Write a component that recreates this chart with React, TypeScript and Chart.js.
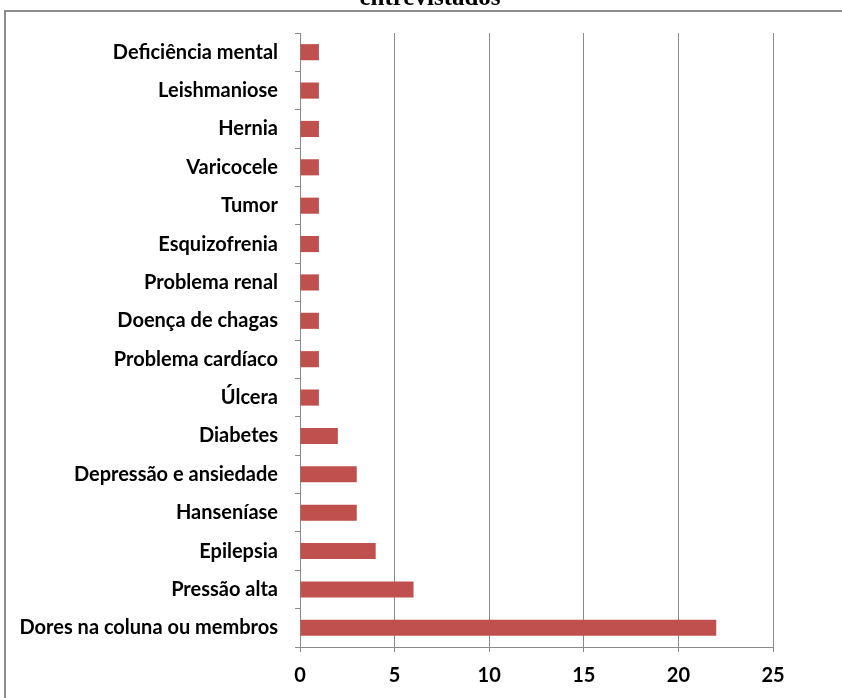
import React, { useEffect, useRef } from "react";
import { Chart, registerables } from "chart.js";

Chart.register(...registerables);

const categories = [
  "Deficiência mental",
  "Leishmaniose",
  "Hernia",
  "Varicocele",
  "Tumor",
  "Esquizofrenia",
  "Problema renal",
  "Doença de chagas",
  "Problema cardíaco",
  "Úlcera",
  "Diabetes",
  "Depressão e ansiedade",
  "Hanseníase",
  "Epilepsia",
  "Pressão alta",
  "Dores na coluna ou membros",
];
const values = [1, 1, 1, 1, 1, 1, 1, 1, 1, 1, 2, 3, 3, 4, 6, 22];
const xTicks = [0, 5, 10, 15, 20, 25];
const titleText = "entrevistados";

const OFFSET = 12;
const W = 842;
const H = 698 + OFFSET;
const FONT = "Lato, 'DejaVu Sans Condensed', sans-serif";

export default function App() {
  const ref = useRef<HTMLCanvasElement>(null);
  useEffect(() => {
    if (!ref.current) return;
    const framePlugin = {
      id: "frame",
      beforeDraw(chart: any) {
        const ctx = chart.ctx;
        ctx.save();
        ctx.fillStyle = "#ffffff";
        ctx.fillRect(0, 0, chart.width, chart.height);
        ctx.strokeStyle = "#8c8c8c";
        ctx.lineWidth = 2;
        ctx.strokeRect(5, 11 + OFFSET, 2000, 2000);
        ctx.fillStyle = "#000";
        ctx.font = "bold 25px 'Liberation Serif', 'Times New Roman', serif";
        ctx.textAlign = "center";
        ctx.textBaseline = "alphabetic";
        ctx.fillText(titleText, 430, 5 + OFFSET);
        ctx.restore();
      },
    };
    const chart = new Chart(ref.current, {
      type: "bar",
      data: {
        labels: categories,
        datasets: [
          {
            data: values,
            backgroundColor: "#C0504D",
            borderWidth: 0,
            barPercentage: 1,
            categoryPercentage: 0.42,
          },
        ],
      },
      options: {
        indexAxis: "y",
        responsive: false,
        animation: false,
        layout: { padding: { left: 0, right: 69, top: 45, bottom: 0 } },
        plugins: {
          legend: { display: false },
          tooltip: { enabled: false },
          title: { display: false },
        },
        scales: {
          x: {
            min: 0,
            max: 25,
            afterBuildTicks(scale: any) {
              scale.ticks = xTicks.map((v) => ({ value: v }));
            },
            afterFit(scale: any) {
              scale.height = 51;
            },
            grid: { color: "#8a8a8a", tickLength: 5, lineWidth: 1 },
            border: { color: "#8a8a8a", width: 1 },
            ticks: {
              color: "#000",
              padding: 12,
              font: { family: FONT, size: 20, weight: "bold" },
            },
          },
          y: {
            afterFit(scale: any) {
              scale.width = 300;
            },
            grid: {
              display: true,
              drawOnChartArea: false,
              drawTicks: true,
              tickLength: 5,
              offset: true,
              color: "#8a8a8a",
            },
            border: { color: "#8a8a8a", width: 1 },
            ticks: {
              color: "#000",
              padding: 17,
              font: { family: FONT, size: 20, weight: "bold" },
            },
          },
        },
      },
      plugins: [framePlugin],
    } as any);
    return () => chart.destroy();
  }, []);
  return (
    <div style={{ position: "absolute", left: 0, top: 0, width: 842, height: 698, overflow: "hidden", background: "#fff" }}>
      <canvas
        ref={ref}
        width={W}
        height={H}
        style={{ position: "absolute", left: 0, top: -OFFSET, width: W, height: H }}
      />
    </div>
  );
}
